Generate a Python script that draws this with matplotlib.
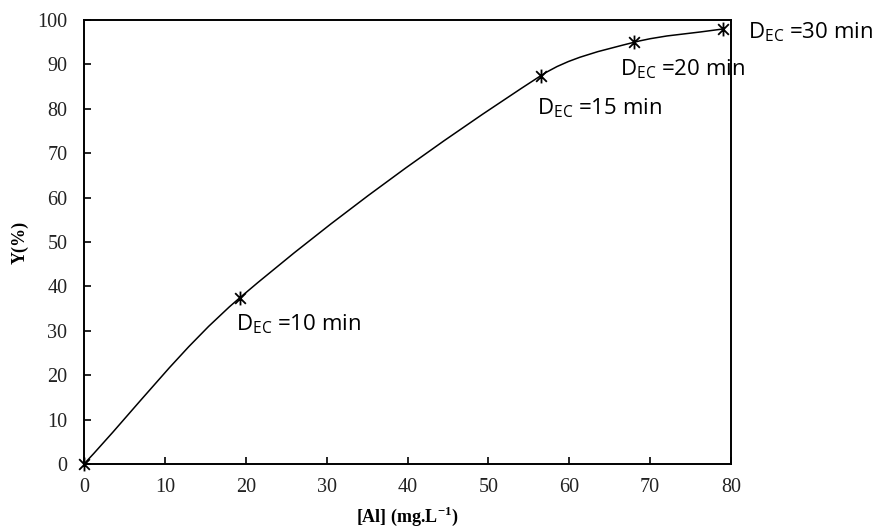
import numpy as np
import matplotlib
matplotlib.use("Agg")
import matplotlib.pyplot as plt
from matplotlib.path import Path
from matplotlib.patches import PathPatch

plt.rcParams['mathtext.fontset'] = 'custom'
plt.rcParams['mathtext.rm'] = 'Open Sans'
plt.rcParams['mathtext.bf'] = 'Liberation Serif:bold'

# data
al_conc = [0, 19.3, 56.5, 68.0, 79.0]      # [Al] (mg/L)
yield_pct = [0, 37.5, 87.5, 95.0, 98.0]    # Y (%)
labels = ["", "10", "15", "20", "30"]      # D_EC (min)
x_ticks = [0, 10, 20, 30, 40, 50, 60, 70, 80]
y_ticks = [0, 10, 20, 30, 40, 50, 60, 70, 80, 90, 100]

fig = plt.figure(figsize=(8.78, 5.29), dpi=100)
ax = fig.add_axes([0.0957, 0.1229, 0.7369, 0.8391])
ax.set_xlim(0, 80)
ax.set_ylim(0, 100)

# smoothed line (bezier with tangent arms scaled to segment length)
sx, sy = 647 / 80.0, 444 / 100.0   # approx px per unit, to smooth in screen space
pts = np.column_stack([al_conc, yield_pct]) * [sx, sy]
n = len(pts)
tang = []
for i in range(n):
    a = pts[max(i - 1, 0)]
    b = pts[min(i + 1, n - 1)]
    d = b - a
    tang.append(d / np.hypot(*d))
verts = [pts[0]]
codes = [Path.MOVETO]
for i in range(n - 1):
    L = np.hypot(*(pts[i + 1] - pts[i]))
    verts += [pts[i] + tang[i] * L / 3, pts[i + 1] - tang[i + 1] * L / 3, pts[i + 1]]
    codes += [Path.CURVE4] * 3
verts = np.array(verts) / [sx, sy]
ax.add_patch(PathPatch(Path(verts, codes), facecolor='none', edgecolor='black', lw=1.1))

# asterisk marker: X plus vertical bar
star = Path([(-1, -1), (1, 1), (-1, 1), (1, -1), (0, -1.3), (0, 1.3)],
            [Path.MOVETO, Path.LINETO, Path.MOVETO, Path.LINETO, Path.MOVETO, Path.LINETO])
ax.plot(al_conc, yield_pct, linestyle='none', marker=star, markersize=10,
        markeredgecolor='black', markeredgewidth=1.3, clip_on=False, zorder=5)

# labels
label_pos = [None, (18.8, 31.5), (56.0, 80.2), (66.3, 89.0), (82.1, 97.3)]
for lab, pos in zip(labels, label_pos):
    if pos is None:
        continue
    ax.text(pos[0], pos[1], r"D$_{\mathrm{EC}}$ =" + lab + " min", fontsize=16,
            family='Open Sans', va='center', ha='left', clip_on=False)

ax.set_xticks(x_ticks)
ax.set_yticks(y_ticks)
ax.tick_params(direction='in', length=5, width=1.2, labelsize=14.5)
ax.tick_params(axis='y', pad=12)
ax.tick_params(axis='x', pad=10)
for lab in ax.get_xticklabels() + ax.get_yticklabels():
    lab.set_family('Liberation Serif')
    lab.set_color('#222222')
for sp in ax.spines.values():
    sp.set_linewidth(1.4)

ax.set_xlabel(r"[Al] (mg.L$^{\mathbf{-1}}$)", family='Liberation Serif',
              fontweight='bold', fontsize=13, labelpad=6)
ax.set_ylabel("Y(%)", family='Liberation Serif', fontweight='bold', fontsize=13, labelpad=6)

fig.savefig("out.png", dpi=100)
